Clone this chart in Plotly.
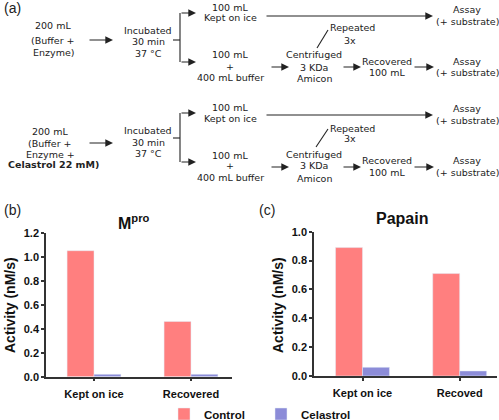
import plotly.graph_objects as go

W, H = 499, 420

# ---------------- data ----------------
series_names = ["Control", "Celastrol"]
series_colors = ["#FF7F7F", "#8C8CD8"]

mpro_categories = ["Kept on ice", "Recovered"]
mpro_control = [1.05, 0.46]
mpro_celastrol = [0.02, 0.02]

papain_categories = ["Kept on ice", "Recoved"]
papain_control = [0.89, 0.71]
papain_celastrol = [0.06, 0.035]

mpro_ticks = [0.0, 0.2, 0.4, 0.6, 0.8, 1.0, 1.2]
papain_ticks = [0.0, 0.2, 0.4, 0.6, 0.8, 1.0]

# ---------------- diagram text (text, x px, y px) ----------------
diagram_text = [
    ("200 mL", 53, 25), ("(Buffer +", 53, 40), ("Enzyme)", 53, 52),
    ("Incubated", 148, 31), ("30 min", 148, 42), ("37 °C", 148, 53),
    ("100 mL", 230, 7), ("Kept on ice", 230, 18),
    ("100 mL", 230, 55), ("+", 230, 66), ("400 mL buffer", 230, 77),
    ("Assay", 467, 9), ("(+ substrate)", 467, 21),
    ("Repeated", 352, 28), ("3x", 350, 40),
    ("Centrifuged", 314, 55), ("3 KDa", 314, 67), ("Amicon", 314, 78),
    ("Recovered", 387, 61), ("100 mL", 387, 72),
    ("Assay", 467, 61), ("(+ substrate)", 467, 72),

    ("200 mL", 50, 131), ("(Buffer +", 50, 143), ("Enzyme +", 50, 154),
    ("<b>Celastrol 22 mM)</b>", 53, 165),
    ("Incubated", 148, 130), ("30 min", 148, 142), ("37 °C", 148, 153),
    ("100 mL", 230, 107), ("Kept on ice", 230, 118),
    ("100 mL", 230, 155), ("+", 230, 166), ("400 mL buffer", 230, 177),
    ("Assay", 467, 109), ("(+ substrate)", 467, 120),
    ("Repeated", 352, 128), ("3x", 350, 139),
    ("Centrifuged", 314, 154), ("3 KDa", 314, 166), ("Amicon", 314, 178),
    ("Recovered", 387, 160), ("100 mL", 387, 172),
    ("Assay", 467, 160), ("(+ substrate)", 467, 172),
]

# arrows: (tail x, head x, y)
diagram_arrows = [
    (88, 113, 40), (180, 196, 13), (180, 196, 62), (265, 433, 16),
    (270, 289, 67), (342, 361, 67), (413, 434, 67),
    (88, 113, 143), (180, 196, 113), (180, 196, 162), (265, 433, 115),
    (270, 289, 167), (342, 361, 167), (413, 434, 167),
]

# plain lines: (x0, y0, x1, y1)
diagram_lines = [
    (173, 40, 180, 40), (180, 13, 180, 62), (317, 48, 328, 30),
    (173, 138, 180, 138), (180, 113, 180, 162), (316, 147, 328, 129),
]


def px(x):
    return x / W


def py(y):
    return 1 - y / H


fig = go.Figure()

# ---------------- bars ----------------
fig.add_trace(go.Bar(x=mpro_categories, y=mpro_control, name=series_names[0],
                     marker_color=series_colors[0], xaxis="x", yaxis="y",
                     legendgroup="c", showlegend=True))
fig.add_trace(go.Bar(x=mpro_categories, y=mpro_celastrol, name=series_names[1],
                     marker_color=series_colors[1], xaxis="x", yaxis="y",
                     legendgroup="e", showlegend=True))
fig.add_trace(go.Bar(x=papain_categories, y=papain_control, name=series_names[0],
                     marker_color=series_colors[0], xaxis="x2", yaxis="y2",
                     legendgroup="c", showlegend=False))
fig.add_trace(go.Bar(x=papain_categories, y=papain_celastrol, name=series_names[1],
                     marker_color=series_colors[1], xaxis="x2", yaxis="y2",
                     legendgroup="e", showlegend=False))

tickfont = dict(family="Liberation Sans", size=11, color="#111", weight="bold")
axcommon = dict(showline=True, linecolor="#333", linewidth=1.5, ticks="outside",
                ticklen=3, tickwidth=1.5, tickcolor="#333", showgrid=False,
                zeroline=False, tickfont=tickfont, fixedrange=True,
                automargin=False)

fig.update_layout(
    width=W, height=H,
    margin=dict(l=0, r=0, t=0, b=0, autoexpand=False),
    paper_bgcolor="white", plot_bgcolor="white",
    barmode="group", bargap=0.445, bargroupgap=0,
    xaxis=dict(domain=[px(46), px(232)], range=[-0.495, 1.423], anchor="y",
               ticklabelstandoff=3, **axcommon),
    yaxis=dict(domain=[py(376.7), py(232.7)], range=[0, 1.2], anchor="x",
               tickvals=mpro_ticks, tickformat=".1f", **axcommon),
    xaxis2=dict(domain=[px(314), px(497)], range=[-0.499, 1.384], anchor="y2",
                ticklabelstandoff=3, **axcommon),
    yaxis2=dict(domain=[py(376), py(231.7)], range=[0, 1.0], anchor="x2",
                tickvals=papain_ticks, tickformat=".1f", **axcommon),
    legend=dict(orientation="h", x=px(164), xanchor="left",
                xref="container", yref="container", y=py(414),
                yanchor="middle", entrywidth=52, entrywidthmode="pixels",
                font=dict(family="Liberation Sans", size=11.5, color="#111",
                          weight="bold"),
                bgcolor="rgba(0,0,0,0)", itemclick=False),
    showlegend=True,
)

annotations = []
dfont = dict(family="DejaVu Sans", size=9.5, color="#222")
for t, x, y in diagram_text:
    annotations.append(dict(text=t, x=px(x), y=py(y), xref="paper", yref="paper",
                            showarrow=False, xanchor="center", yanchor="middle",
                            font=dfont))
for x0, x1, y in diagram_arrows:
    annotations.append(dict(text="", x=px(x1), y=py(y), xref="paper", yref="paper",
                            ax=x0 - x1, ay=0, axref="pixel", ayref="pixel",
                            showarrow=True, arrowhead=2, arrowsize=1.4,
                            arrowwidth=1.1, arrowcolor="#222", standoff=0))

# panel labels
lfont = dict(family="Liberation Sans", size=14, color="#222")
for t, x, y in [("(a)", 2, 8), ("(b)", 2, 210), ("(c)", 257, 210)]:
    annotations.append(dict(text=t, x=px(x), y=py(y), xref="paper", yref="paper",
                            showarrow=False, xanchor="left", yanchor="middle",
                            font=lfont))

# panel titles
tfont = dict(family="Liberation Sans", size=16, color="#111", weight="bold")
annotations.append(dict(text="M<sup>pro</sup>", x=px(134), y=py(222), xref="paper",
                        yref="paper", showarrow=False, xanchor="center",
                        yanchor="middle", font=tfont))
annotations.append(dict(text="Papain", x=px(402), y=py(218), xref="paper",
                        yref="paper", showarrow=False, xanchor="center",
                        yanchor="middle", font=tfont))

# y axis titles
yfont = dict(family="Liberation Sans", size=14, color="#111", weight="bold")
for x, y in [(10, 305), (278, 305)]:
    annotations.append(dict(text="Activity (nM/s)", x=px(x), y=py(y), xref="paper",
                            yref="paper", showarrow=False, textangle=-90,
                            xanchor="center", yanchor="middle", font=yfont))

shapes = []
for x0, y0, x1, y1 in diagram_lines:
    shapes.append(dict(type="line", xref="paper", yref="paper", x0=px(x0), y0=py(y0),
                       x1=px(x1), y1=py(y1), line=dict(color="#222", width=1.1)))

fig.update_layout(annotations=annotations, shapes=shapes)

fig.write_html("out.html", config={"displayModeBar": False},
               post_script="document.body.style.margin='0px';")
